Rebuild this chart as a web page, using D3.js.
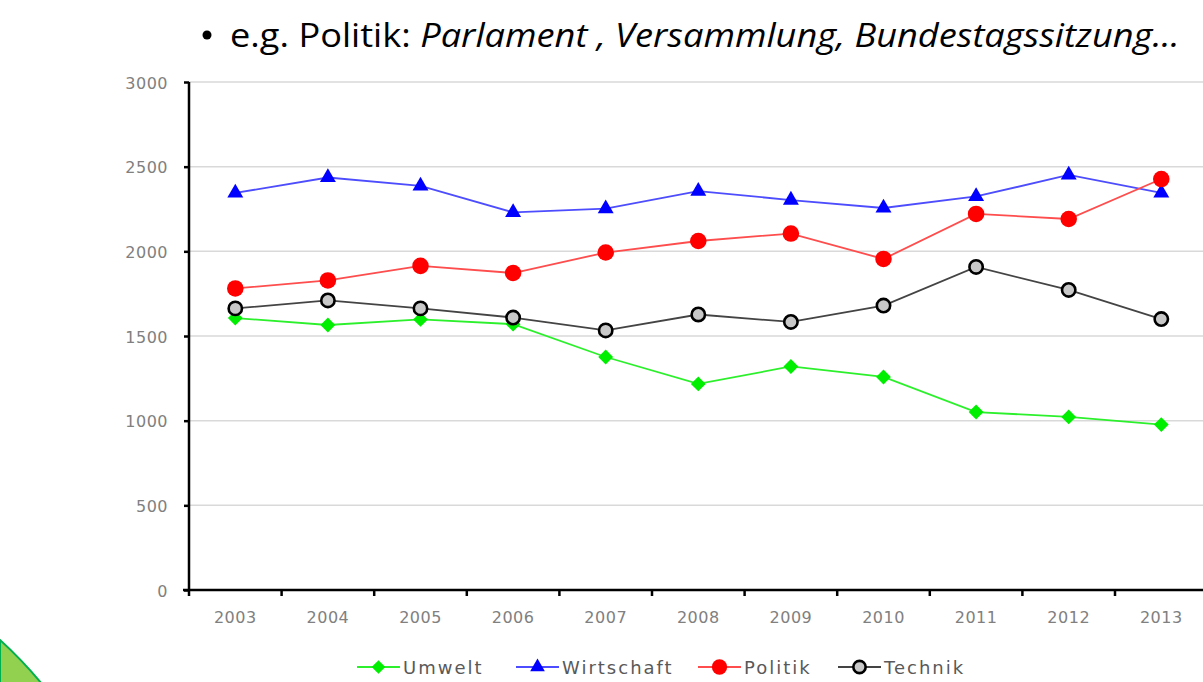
<!DOCTYPE html>
<html>
<head>
<meta charset="utf-8">
<script src="https://d3js.org/d3.v7.min.js"></script>
<style>
body { margin: 0; background: white; }
svg { display: block; }
.tick text { font-family: "DejaVu Sans", sans-serif; fill: #808080; }
</style>
</head>
<body>
<svg width="1203" height="682"></svg>
<script>
// chart data
var years = ["2003","2004","2005","2006","2007","2008","2009","2010","2011","2012","2013"];
var umwelt     = [1606, 1565, 1598, 1570, 1376, 1217, 1320, 1258, 1051, 1022, 977];
var wirtschaft = [2345, 2436, 2386, 2230, 2252, 2355, 2303, 2256, 2324, 2451, 2345];
var politik    = [1781, 1828, 1914, 1872, 1993, 2061, 2105, 1955, 2221, 2191, 2427];
var technik    = [1663, 1710, 1663, 1609, 1533, 1627, 1583, 1680, 1908, 1772, 1600];
var yTicks = [0, 500, 1000, 1500, 2000, 2500, 3000];
var seriesNames = ["Umwelt", "Wirtschaft", "Politik", "Technik"];

var series = [
  {name: "Umwelt", values: umwelt, line: "#2cf02c", fill: "#00ee00", stroke: "none", sym: "diamond"},
  {name: "Wirtschaft", values: wirtschaft, line: "#4d4dff", fill: "#0000ff", stroke: "none", sym: "triangle"},
  {name: "Politik", values: politik, line: "#ff4d4d", fill: "#ff0000", stroke: "none", sym: "circle"},
  {name: "Technik", values: technik, line: "#444444", fill: "#c8c8c8", stroke: "#000000", sym: "ring"}
];

var svg = d3.select("svg");

// decorative slide corner
svg.append("path")
  .attr("d", "M0,640 Q22,660 42,684 L0,684 Z")
  .attr("fill", "#92d050")
  .attr("stroke", "#00b050")
  .attr("stroke-width", 2);

// slide bullet text
var title = svg.append("text")
  .attr("x", 0).attr("y", 47)
  .style("font-family", "'Open Sans', sans-serif")
  .style("font-size", "33px")
  .style("fill", "#000");
title.append("tspan").text("e.g. Politik: ");
title.append("tspan").style("font-style", "italic").text("Parlament , Versammlung, Bundestagssitzung...");
var tw = title.node().getComputedTextLength();
title.attr("transform", "translate(230,0) scale(" + (950 / tw) + ",1)");
svg.append("circle").attr("cx", 207).attr("cy", 35).attr("r", 4.5).attr("fill", "#000");

var x = d3.scaleBand().domain(years).range([189, 189 + 11 * 92.6]);
var y = d3.scaleLinear().domain([0, 3000]).range([590, 82]);

// gridlines
svg.append("g")
  .selectAll("line").data(yTicks.filter(function(d) { return d > 0; })).enter().append("line")
  .attr("x1", 189).attr("x2", 1203)
  .attr("y1", function(d) { return y(d); })
  .attr("y2", function(d) { return y(d); })
  .attr("stroke", "#d9d9d9").attr("stroke-width", 1.5);

// y axis
var yAxis = svg.append("g")
  .attr("transform", "translate(189,0)")
  .call(d3.axisLeft(y).tickValues(yTicks).tickSize(5).tickPadding(16).tickFormat(d3.format("d")));
yAxis.selectAll("text").style("font-size", "16px").style("letter-spacing", "0.5px").attr("dy", "0.38em");

// x axis labels
var xAxis = svg.append("g")
  .attr("transform", "translate(0,590)")
  .call(d3.axisBottom(x).tickSize(0).tickPadding(22).tickSizeOuter(0));
xAxis.selectAll("text").style("font-size", "16px").style("letter-spacing", "0.5px");
xAxis.select(".domain").remove();

// x boundary ticks
svg.append("g")
  .selectAll("line").data(years).enter().append("line")
  .attr("x1", function(d) { return x(d); })
  .attr("x2", function(d) { return x(d); })
  .attr("y1", 590).attr("y2", 596)
  .attr("stroke", "#000").attr("stroke-width", 2.5);

yAxis.select(".domain").remove();
yAxis.selectAll(".tick line").attr("stroke", "#000").attr("stroke-width", 2.5);
svg.append("line").attr("x1", 189).attr("x2", 189).attr("y1", 82).attr("y2", 591)
  .attr("stroke", "#000").attr("stroke-width", 2.5);
svg.append("line").attr("x1", 183).attr("x2", 1203).attr("y1", 590).attr("y2", 590)
  .attr("stroke", "#000").attr("stroke-width", 2.5);

function marker(sel, s, scale) {
  var p;
  if (s.sym == "diamond") {
    p = sel.append("path").attr("d", d3.symbol().type(d3.symbolSquare).size(110 * scale)())
      .attr("transform", "rotate(45)");
  } else if (s.sym == "triangle") {
    p = sel.append("path").attr("d", d3.symbol().type(d3.symbolTriangle).size(110 * scale)());
  } else if (s.sym == "circle") {
    p = sel.append("path").attr("d", d3.symbol().type(d3.symbolCircle).size(215 * scale)());
  } else {
    p = sel.append("path").attr("d", d3.symbol().type(d3.symbolCircle).size(140 * scale)())
      .attr("stroke-width", 2.6);
  }
  p.attr("fill", s.fill).attr("stroke", s.stroke);
}

var line = d3.line()
  .x(function(d, i) { return x(years[i]) + x.bandwidth() / 2; })
  .y(function(d) { return y(d); });

series.forEach(function(s) {
  svg.append("path")
    .datum(s.values)
    .attr("d", line)
    .attr("fill", "none")
    .attr("stroke", s.line)
    .attr("stroke-width", 1.8);
});
series.forEach(function(s) {
  svg.append("g").selectAll("g").data(s.values).enter().append("g")
    .attr("transform", function(d, i) { return "translate(" + (x(years[i]) + x.bandwidth() / 2) + "," + y(d) + ")"; })
    .each(function() { marker(d3.select(this), s, 1); });
});

// legend
var legendX = [357, 516, 698, 838];
var legend = svg.append("g");
series.forEach(function(s, i) {
  var g = legend.append("g").attr("transform", "translate(" + legendX[i] + ",667)");
  g.append("line").attr("x1", 0).attr("x2", 43).attr("y1", 0).attr("y2", 0)
    .attr("stroke", s.line).attr("stroke-width", 1.8);
  var m = g.append("g").attr("transform", "translate(21.5,0)");
  marker(m, s, 0.85);
  g.append("text")
    .attr("x", 46).attr("y", 7)
    .style("font-family", "'DejaVu Sans', sans-serif")
    .style("font-size", "18px")
    .style("letter-spacing", "2px")
    .style("fill", "#595959")
    .text(seriesNames[i]);
});
</script>
</body>
</html>
